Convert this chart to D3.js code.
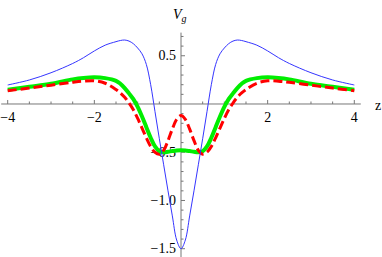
<!DOCTYPE html>
<html>
<head>
<meta charset="utf-8">
<script src="https://cdn.jsdelivr.net/npm/d3@7"></script>
<style>
  body { margin: 0; background: #fff; }
  svg { display: block; }
  .tick-label { font-family: 'Liberation Serif', 'DejaVu Serif', serif; font-size: 14px; fill: #000; }
</style>
</head>
<body>
<div id="wrapper"></div>
<script>
// sample points along z
const zValues = [-4, -3.5, -3, -2.5, -2.25, -2, -1.75, -1.5, -1.4, -1.3, -1.2, -1.1, -1, -0.9, -0.8, -0.7, -0.6, -0.5, -0.4, -0.3, -0.2, -0.1,
  0, 0.1, 0.2, 0.3, 0.4, 0.5, 0.6, 0.7, 0.8, 0.9, 1, 1.1, 1.2, 1.3, 1.4, 1.5, 1.75, 2, 2.25, 2.5, 3, 3.5, 4]

// thin blue curve
const blueValues = [0.197, 0.249, 0.324, 0.42, 0.48, 0.55, 0.61, 0.646, 0.658, 0.663, 0.652, 0.625, 0.58, 0.52, 0.41, 0.2, -0.08, -0.36, -0.63, -0.9, -1.16, -1.41,
  -1.5, -1.41, -1.16, -0.9, -0.63, -0.36, -0.08, 0.2, 0.41, 0.52, 0.58, 0.625, 0.652, 0.663, 0.658, 0.646, 0.61, 0.55, 0.48, 0.42, 0.324, 0.249, 0.197]

// thick green curve
const greenValues = [0.147, 0.178, 0.21, 0.255, 0.27, 0.277, 0.268, 0.24, 0.21, 0.165, 0.11, 0.05, -0.03, -0.13, -0.24, -0.35, -0.44, -0.49, -0.5, -0.495, -0.488, -0.482,
  -0.48, -0.482, -0.488, -0.495, -0.5, -0.49, -0.44, -0.35, -0.24, -0.13, -0.03, 0.05, 0.11, 0.165, 0.21, 0.24, 0.268, 0.277, 0.27, 0.255, 0.21, 0.178, 0.147]

// red dashed curve
const redValues = [0.138, 0.165, 0.195, 0.225, 0.237, 0.24, 0.215, 0.15, 0.115, 0.07, 0.01, -0.06, -0.15, -0.25, -0.35, -0.44, -0.5, -0.52, -0.48, -0.38, -0.26, -0.16,
  -0.12, -0.16, -0.26, -0.38, -0.48, -0.52, -0.5, -0.44, -0.35, -0.25, -0.15, -0.06, 0.01, 0.07, 0.115, 0.15, 0.215, 0.24, 0.237, 0.225, 0.195, 0.165, 0.138]

const xTickLabels = [-4, -2, 2, 4]
const yTickLabels = [0.5, -0.5, -1.0, -1.5]

const width = 382
const height = 257

const svg = d3.select('#wrapper')
  .append('svg')
  .attr('width', width)
  .attr('height', height)

const xScale = d3.scaleLinear().domain([-4, 4]).range([7.7, 354.3])
const yScale = d3.scaleLinear().domain([-1.59, 0.74]).range([257.4, 32.6])

const axisColor = '#777'
const x0 = xScale(0)
const y0 = yScale(0)

// axes lines
svg.append('line')
  .attr('x1', xScale(-4.15)).attr('x2', xScale(4.15))
  .attr('y1', y0).attr('y2', y0)
  .attr('stroke', axisColor).attr('stroke-width', 1)
svg.append('line')
  .attr('x1', x0).attr('x2', x0)
  .attr('y1', yScale(0.74)).attr('y2', yScale(-1.59))
  .attr('stroke', axisColor).attr('stroke-width', 1)

// x ticks: minor every 0.5, major every 2
const xTicks = d3.range(-4, 4.01, 0.5).filter((d) => d !== 0)
svg.append('g')
  .selectAll('line')
  .data(xTicks)
  .join('line')
  .attr('x1', (d) => xScale(d)).attr('x2', (d) => xScale(d))
  .attr('y1', y0)
  .attr('y2', (d) => y0 - (d % 2 === 0 ? 4 : 2.5))
  .attr('stroke', axisColor)

// y ticks: minor every 0.1, major every 0.5
const yTicks = d3.range(-15, 8).map((d) => d / 10).filter((d) => d !== 0)
svg.append('g')
  .selectAll('line')
  .data(yTicks)
  .join('line')
  .attr('x1', x0)
  .attr('x2', (d) => x0 + (Math.round(d * 10) % 5 === 0 ? 4 : 2.5))
  .attr('y1', (d) => yScale(d)).attr('y2', (d) => yScale(d))
  .attr('stroke', axisColor)

const fmtMinus = (s) => s.replace('-', '\u2212')

svg.append('g')
  .selectAll('text')
  .data(xTickLabels)
  .join('text')
  .attr('class', 'tick-label')
  .attr('x', (d) => Math.max(xScale(d), 7.5))
  .attr('y', y0 + 18)
  .attr('text-anchor', 'middle')
  .text((d) => fmtMinus(String(d)))

svg.append('g')
  .selectAll('text')
  .data(yTickLabels)
  .join('text')
  .attr('class', 'tick-label')
  .attr('x', x0 - 5)
  .attr('y', (d) => yScale(d) + 4.5)
  .attr('text-anchor', 'end')
  .text((d) => fmtMinus(d.toFixed(1)))

// axis labels
const vLabel = svg.append('text')
  .attr('x', 173)
  .attr('y', 19)
  .style('font-family', "'Liberation Serif', serif")
  .style('font-size', '14px')
  .style('font-style', 'italic')
vLabel.append('tspan').text('V')
vLabel.append('tspan').attr('dy', 3).style('font-size', '10px').text('g')

svg.append('text')
  .attr('x', 375)
  .attr('y', 110)
  .style('font-family', "'Liberation Serif', serif")
  .style('font-size', '14px')
  .text('z')

// curves
const series = [
  { values: greenValues, color: '#00ee00', width: 4, dash: null },
  { values: redValues, color: '#ff0000', width: 3, dash: '9,4' },
  { values: blueValues, color: '#3535ff', width: 1, dash: null },
]

const line = d3.line()
  .x((d) => xScale(d[0]))
  .y((d) => yScale(d[1]))
  .curve(d3.curveCatmullRom.alpha(0.5))

series.forEach((s) => {
  svg.append('path')
    .datum(zValues.map((z, i) => [z, s.values[i]]))
    .attr('d', line)
    .attr('fill', 'none')
    .attr('stroke', s.color)
    .attr('stroke-width', s.width)
    .attr('stroke-dasharray', s.dash)
})
</script>
</body>
</html>
